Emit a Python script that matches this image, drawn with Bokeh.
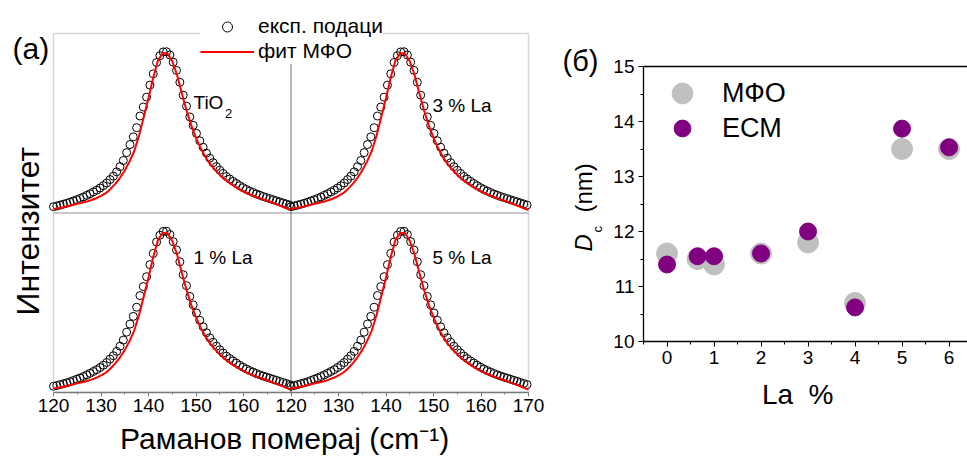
import math
from bokeh.plotting import figure
from bokeh.models import (Range1d, FixedTicker, Span, Label, Legend, LegendItem,
                          ColumnDataSource, BoxAnnotation, Spacer)
from bokeh.layouts import row, column
from bokeh.embed import file_html
from bokeh.resources import INLINE

FONT = "Liberation Sans"
NBSP = "\u00a0"

# ---------------- data: panel (a) ----------------
raman_x = [120.0, 120.7, 121.4, 122.1, 122.8, 123.5, 124.2, 124.9, 125.6, 126.3,
           127.0, 127.7, 128.4, 129.1, 129.8, 130.5, 131.2, 131.9, 132.6, 133.3,
           134.0, 134.7, 135.4, 136.1, 136.8, 137.5, 138.2, 138.9, 139.6, 140.3,
           141.0, 141.7, 142.4, 143.1, 143.8, 144.5, 145.2, 145.9, 146.6, 147.3,
           148.0, 148.7, 149.4, 150.1, 150.8, 151.5, 152.2, 152.9, 153.6, 154.3,
           155.0, 155.7, 156.4, 157.1, 157.8, 158.5, 159.2, 159.9, 160.6, 161.3,
           162.0, 162.7, 163.4, 164.1, 164.8, 165.5, 166.2, 166.9, 167.6, 168.3,
           169.0, 169.7]
exp_intensity = [0.035, 0.039, 0.044, 0.049, 0.054, 0.060, 0.067, 0.074, 0.081, 0.089,
                 0.098, 0.107, 0.117, 0.127, 0.139, 0.152, 0.167, 0.186, 0.205, 0.229,
                 0.258, 0.292, 0.336, 0.381, 0.424, 0.475, 0.540, 0.590, 0.645, 0.712,
                 0.775, 0.838, 0.876, 0.897, 0.898, 0.880, 0.840, 0.794, 0.728, 0.656,
                 0.595, 0.535, 0.488, 0.443, 0.402, 0.366, 0.333, 0.305, 0.280, 0.258,
                 0.238, 0.220, 0.203, 0.189, 0.176, 0.164, 0.152, 0.141, 0.131, 0.122,
                 0.114, 0.106, 0.099, 0.092, 0.086, 0.080, 0.074, 0.068, 0.062, 0.056,
                 0.050, 0.044]
fit_x = [120, 121, 122, 123, 124, 125, 126, 127, 128, 129, 130, 131, 132, 133, 134,
         135, 136, 137, 138, 139, 140, 141, 142, 143, 144, 145, 146, 147, 148, 149,
         150, 151, 152, 153, 154, 155, 156, 157, 158, 159, 160, 161, 162, 163, 164,
         165, 166, 167, 168, 169, 170]
fit_intensity = [0.022, 0.027, 0.032, 0.038, 0.044, 0.051, 0.057, 0.063, 0.072, 0.082,
                 0.095, 0.110, 0.134, 0.162, 0.196, 0.236, 0.286, 0.345, 0.430, 0.535,
                 0.640, 0.755, 0.850, 0.890, 0.888, 0.845, 0.770, 0.668, 0.572, 0.488,
                 0.418, 0.360, 0.312, 0.272, 0.240, 0.212, 0.188, 0.168, 0.150, 0.134,
                 0.120, 0.107, 0.096, 0.086, 0.077, 0.068, 0.058, 0.048, 0.037, 0.026,
                 0.016]
panel_names = ["TiO", "3 % La", "1 % La", "5 % La"]
raman_ticks = [120, 130, 140, 150, 160, 170, 180, 190, 200, 210, 220]
raman_tick_labels = ["120", "130", "140", "150", "160", "120", "130", "140", "150", "160", "170"]

# ---------------- data: panel (b) ----------------
la_percent = [0, 0.65, 1, 2, 3, 4, 5, 6]
dc_mfo = [11.6, 11.5, 11.4, 11.6, 11.8, 10.7, 13.5, 13.5]
dc_ecm = [11.4, 11.55, 11.55, 11.6, 12.0, 10.62, 13.87, 13.53]

AX_GREY = "#7a7a7a"

# ---------------- layout geometry (pixels) ----------------
A_W, A_H, A_BOTTOM = 610, 457, 64
A_LEFT, A_PX_X, A_PX_Y = 53, 4.75, 180.0
FRAME_A_H = A_H - A_BOTTOM
ax0 = 120 - A_LEFT / A_PX_X
ax1 = ax0 + A_W / A_PX_X
ay1 = FRAME_A_H / A_PX_Y

B_W, B_LEFT, B_OFF, B_BOTTOM = 357, 31, 50, 75
B_FRAME_W = B_W - B_LEFT
B_PX_X, B_PX_Y = 47.3, 55.0
B_TOP_PX, B_BOTTOM_PX = 66, 341            # pixel rows of D = 15 and D = 10
B_H = B_BOTTOM_PX - B_OFF + B_BOTTOM

# =============== figure (a) ===============
pa = figure(width=A_W, height=A_H, x_range=Range1d(ax0, ax1), y_range=Range1d(0, ay1),
            y_axis_location=None, output_backend="svg", toolbar_location=None,
            min_border_left=0, min_border_right=0, min_border_top=0, min_border_bottom=A_BOTTOM)
pa.extra_x_ranges = {"L": Range1d(ax0, ax1), "R": Range1d(ax0 - 50, ax1 - 50)}
pa.extra_y_ranges = {"T": Range1d(-1, ay1 - 1), "B": Range1d(0, ay1)}
pa.xgrid.grid_line_color = None
pa.ygrid.grid_line_color = None
pa.outline_line_color = None
pa.background_fill_color = "white"
pa.border_fill_color = "white"

exp_src = ColumnDataSource(dict(x=raman_x, y=exp_intensity))
fit_src = ColumnDataSource(dict(x=fit_x, y=fit_intensity))

panel_pos = [("L", "T"), ("R", "T"), ("L", "B"), ("R", "B")]
scs, lns = [], []
for xr, yr in panel_pos:
    scs.append(pa.scatter("x", "y", source=exp_src, x_range_name=xr, y_range_name=yr,
                          marker="circle", size=8, fill_color=None, line_color="black",
                          line_width=1))
for xr, yr in panel_pos:
    lns.append(pa.line("x", "y", source=fit_src, x_range_name=xr, y_range_name=yr,
                       line_color="#ff0000", line_width=2))


def style(ax, color, width=1.5):
    ax.axis_line_color = color
    ax.axis_line_width = width
    ax.major_tick_line_color = color
    ax.minor_tick_line_color = color
    ax.major_tick_line_width = 1
    ax.minor_tick_line_width = 1
    ax.major_label_text_font = FONT
    ax.major_label_text_color = "black"
    ax.major_label_text_font_size = "19px"
    ax.axis_label_text_font = FONT
    ax.axis_label_text_font_style = "normal"
    ax.axis_label_text_color = "black"


xa = pa.xaxis[0]
xa.bounds = (120, 220)
xa.ticker = FixedTicker(ticks=raman_ticks,
                        minor_ticks=[125, 135, 145, 155, 165, 175, 185, 195, 205, 215])
xa.major_label_overrides = {t: l for t, l in zip(raman_ticks, raman_tick_labels)}
style(xa, AX_GREY)
xa.major_tick_in = 0
xa.major_tick_out = 4
xa.minor_tick_in = 0
xa.minor_tick_out = 2
xa.major_label_standoff = 2
# trailing no-break spaces shift the centred title left, over the two spectra panels
xa.axis_label = "Раманов померај (cm⁻¹)" + NBSP * 5
xa.axis_label_text_font_size = "30px"
xa.axis_label_standoff = 7

# grey frames of the upper and lower rows, black divider between the left/right panels
for b, t in [(1, 2), (0, 1)]:
    pa.add_layout(BoxAnnotation(left=120, right=220, bottom=b, top=t, fill_color=None,
                                fill_alpha=0, line_color=AX_GREY, line_width=1.5))
pa.add_layout(BoxAnnotation(left=170, right=170.01, bottom=0, top=2, fill_color=None,
                            fill_alpha=0, line_color="black", line_width=1))

leg_a = Legend(items=[LegendItem(label="експ. подаци", renderers=[scs[0]]),
                      LegendItem(label="фит МФО", renderers=[lns[0]])],
               location=(200, 328.5), orientation="vertical",
               glyph_width=54, glyph_height=25, label_height=25, label_standoff=4,
               spacing=0, padding=10, margin=0,
               label_text_font=FONT, label_text_font_size="21px", label_text_color="black",
               border_line_color=None, background_fill_color="white", background_fill_alpha=1.0)
pa.add_layout(leg_a)


def lab(fig, x, y, text, size, **kw):
    fig.add_layout(Label(x=x, y=y, x_units="screen", y_units="screen", text=text,
                         text_font=FONT, text_font_size=size, text_color="black",
                         text_baseline="middle",
                         text_align=kw.pop("align", "left"), **kw))


def ya(canvas_y):
    return FRAME_A_H - canvas_y


# panel labels (x = left edge, y = visual centre of the capitals, canvas px)
lab(pa, 193, ya(102.5), panel_names[0], "19px")
lab(pa, 224.5, ya(113.5), "2", "13px")
lab(pa, 432, ya(105.5), panel_names[1], "19px")
lab(pa, 193, ya(258), panel_names[2], "19px")
lab(pa, 432, ya(258), panel_names[3], "19px")
lab(pa, 12, ya(49), "(a)", "30px")
lab(pa, 27.5, ya(231.7), "Интензитет", "32px", align="center", angle=math.pi / 2)
# labels of panel (b) that sit left of its axis
lab(pa, 562, ya(61), "(б)", "29px")
lab(pa, 582.5, ya(252), "D", "24px", angle=math.pi / 2, text_font_style="italic")
lab(pa, 596.5, ya(233), "c", "13px", angle=math.pi / 2)
lab(pa, 582.5, ya(213), "(nm)", "24px", angle=math.pi / 2)

# =============== figure (b) ===============
pb = figure(width=B_W, height=B_H,
            x_range=Range1d(-0.5, -0.5 + B_FRAME_W / B_PX_X),
            y_range=Range1d(10, 15 + (B_TOP_PX - B_OFF) / B_PX_Y),
            output_backend="svg", toolbar_location=None,
            min_border_left=B_LEFT, min_border_right=0, min_border_top=0,
            min_border_bottom=B_BOTTOM)
pb.xgrid.grid_line_color = None
pb.ygrid.grid_line_color = None
pb.outline_line_color = None
pb.background_fill_color = "white"
pb.border_fill_color = "white"

r_mfo = pb.scatter(la_percent, dc_mfo, marker="circle", size=21, fill_color="#c0c0c0",
                   line_color="#c0c0c0")
r_ecm = pb.scatter(la_percent, dc_ecm, marker="circle", size=17, fill_color="#800080",
                   line_color="#800080")

bx = pb.xaxis[0]
bx.ticker = FixedTicker(ticks=[0, 1, 2, 3, 4, 5, 6],
                        minor_ticks=[-0.5, 0.5, 1.5, 2.5, 3.5, 4.5, 5.5])
style(bx, "black", 1.3)
bx.major_tick_in = 0
bx.major_tick_out = 5
bx.minor_tick_in = 0
bx.minor_tick_out = 3
bx.major_label_standoff = 4
bx.axis_label = "La " + NBSP + "%" + NBSP * 2
bx.axis_label_text_font_size = "28px"
bx.axis_label_standoff = 12

by = pb.yaxis[0]
by.ticker = FixedTicker(ticks=[10, 11, 12, 13, 14, 15],
                        minor_ticks=[10.5, 11.5, 12.5, 13.5, 14.5])
style(by, "black", 1.3)
by.bounds = (10, 15)
by.major_tick_in = 0
by.major_tick_out = 5
by.minor_tick_in = 0
by.minor_tick_out = 3
by.major_label_standoff = 4

pb.add_layout(Span(location=15, dimension="width", line_color="black", line_width=1.3))

leg_b1 = Legend(items=[LegendItem(label="МФО", renderers=[r_mfo])], location=(13, 222),
                glyph_width=52, glyph_height=52, label_standoff=14, padding=0, margin=0,
                label_text_font=FONT, label_text_font_size="27px", label_text_color="black",
                border_line_color=None, background_fill_alpha=0)
leg_b2 = Legend(items=[LegendItem(label="ЕСМ", renderers=[r_ecm])], location=(18, 192),
                glyph_width=42, glyph_height=42, label_standoff=19, padding=0, margin=0,
                label_text_font=FONT, label_text_font_size="27px", label_text_color="black",
                border_line_color=None, background_fill_alpha=0)
pb.add_layout(leg_b1)
pb.add_layout(leg_b2)

layout = row(pa, column(Spacer(width=B_W, height=B_OFF), pb, spacing=0), spacing=0)
open("out.html", "w").write(file_html(layout, INLINE))
